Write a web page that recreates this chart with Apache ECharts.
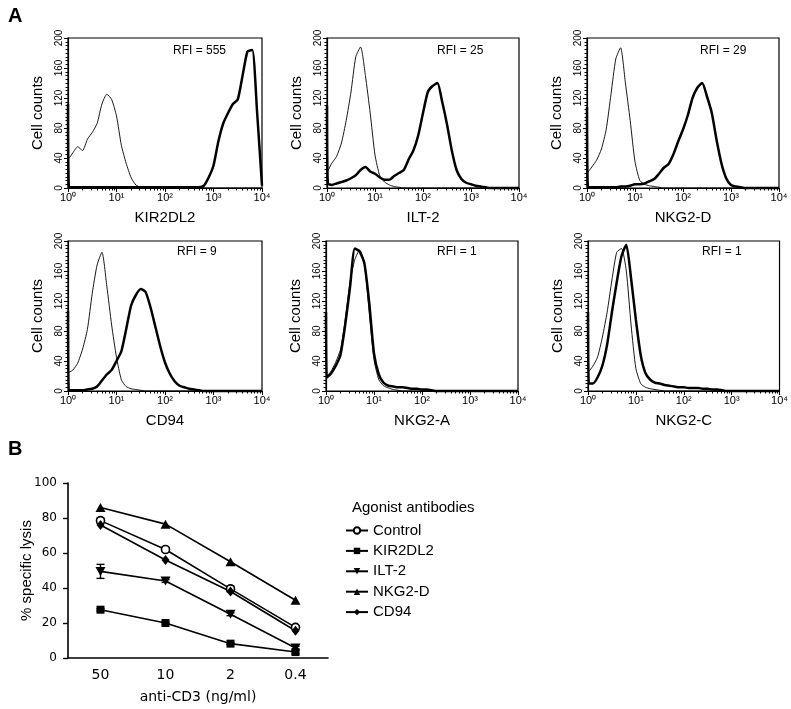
<!DOCTYPE html>
<html><head><meta charset="utf-8">
<script src="https://cdn.jsdelivr.net/npm/echarts@6/dist/echarts.min.js"></script>
<style>html,body{margin:0;padding:0;background:#fff}#c{width:791px;height:709px}</style>
</head><body><div id="c"></div>
<script>
// ---------- Panel A data: fluorescence histograms ----------
// bins: 10^0, 10^0.02, then 10^0.1 ... 10^4.0 in steps of 0.1 decade
const bins = [1, 1.04,
  1.26, 1.58, 2, 2.51, 3.16, 3.98, 5.01, 6.31, 7.94, 10,
  12.6, 15.8, 20, 25.1, 31.6, 39.8, 50.1, 63.1, 79.4, 100,
  126, 158, 200, 251, 316, 398, 501, 631, 794, 1000,
  1259, 1585, 1995, 2512, 3162, 3981, 5012, 6310, 7943, 10000];
const markers = ['KIR2DL2', 'ILT-2', 'NKG2-D', 'CD94', 'NKG2-A', 'NKG2-C'];
const rfiLabels = ['RFI = 555', 'RFI = 25', 'RFI = 29', 'RFI = 9', 'RFI = 1', 'RFI = 1'];
const histYTicks = [0, 40, 80, 120, 160, 200];
const decadeLabels = ['10\u2070', '10\u00b9', '10\u00b2', '10\u00b3', '10\u2074'];

const controlKIR2DL2 = [40,40, 47,55,50,65,74,86,112,125,118,96, 57,33,14,4,1,0,1,0,0,1, 0,0,0,0,0,0,0,0,0,0, 0,0,0,0,0,0,0,0,0,0];
const stainKIR2DL2   = [112,2, 1,1,1,1,1,1,1,1,1,1, 1,1,1,1,1,1,1,1,1,1, 1,1,1,1,1,1,1,3,14,30, 62,86,100,112,118,150,182,184,100,3];
const controlILT2    = [22,23, 33,42,60,90,128,175,188,150,100,44, 16,8,4,2,1,0,0,0,0,0, 0,0,0,0,0,0,0,0,0,0, 0,0,0,0,0,0,0,0,0,0];
const stainILT2      = [110,6, 4,6,8,10,13,17,24,28,22,19, 14,11,11,16,20,24,38,50,70,100, 128,136,140,115,85,50,24,12,7,5, 3,2,1,0,0,0,0,0,0,0];
const controlNKG2D   = [20,21, 28,37,52,78,125,172,187,140,90,35, 10,5,3,2,1,0,0,0,0,0, 0,0,0,0,0,0,0,0,0,0, 0,0,0,0,0,0,0,0,0,0];
const stainNKG2D     = [108,2, 1,1,1,1,1,1,2,2,3,5, 5,6,9,12,19,27,32,45,62,78, 97,120,134,140,122,100,64,33,13,4, 2,1,0,0,0,0,0,0,0,0];
const controlCD94    = [25,25, 28,37,56,82,130,168,185,140,88,45, 15,6,3,2,1,0,0,0,0,0, 0,0,0,0,0,0,0,0,0,0, 0,0,0,0,0,0,0,0,0,0];
const stainCD94      = [107,1, 1,1,1,2,3,6,14,22,28,40, 53,82,114,128,136,132,112,86,60,38, 23,13,7,5,3,2,1,0,0,0, 0,0,0,0,0,0,0,0,0,0];
const controlNKG2A   = [19,20, 26,38,55,95,145,175,188,170,105,42, 15,7,4,2,1,0,0,0,0,0, 0,0,0,0,0,0,0,0,0,0, 0,0,0,0,0,0,0,0,0,0];
const stainNKG2A     = [105,18, 23,33,48,88,138,190,186,170,118,50, 22,11,7,6,5,5,4,3,3,2, 2,1,0,0,0,0,0,0,0,0, 0,0,0,0,0,0,0,0,0,0];
const controlNKG2C   = [25,26, 33,45,72,105,148,185,190,160,88,30, 10,5,3,2,1,0,0,0,0,0, 0,0,0,0,0,0,0,0,0,0, 0,0,0,0,0,0,0,0,0,0];
const stainNKG2C     = [105,10, 10,18,34,62,105,145,180,195,150,95, 48,24,15,11,10,8,7,6,5,5, 4,4,4,3,3,2,2,1,0,0, 0,0,0,0,0,0,0,0,0,0];

const controlCounts = [controlKIR2DL2, controlILT2, controlNKG2D, controlCD94, controlNKG2A, controlNKG2C];
const stainCounts = [stainKIR2DL2, stainILT2, stainNKG2D, stainCD94, stainNKG2A, stainNKG2C];

// ---------- Panel B data: specific lysis ----------
const doses = ['50', '10', '2', '0.4'];
const lysisTicks = [0, 20, 40, 60, 80, 100];
const lysisNames = ['Control', 'KIR2DL2', 'ILT-2', 'NKG2-D', 'CD94'];
const lysisControl = [78.5, 62, 39.5, 17.5];
const lysisKIR2DL2 = [27.6, 20, 8.2, 3.4];
const lysisILT2    = [49.5, 44, 25, 5.7];
const lysisNKG2D   = [86, 76.5, 55, 33];
const lysisCD94    = [76, 56, 38, 15.6];
const errControl = [1.5, 1.2, 1.6, 0.8];
const errILT2    = [4, 0.8, 0.8, 1];
const errKIR2DL2 = [0.6, 0.6, 0.6, 1];

// ---------- layout ----------
const gridPos = [[68,38,194],[327,38,192],[587,38,192],[68,241,194],[326,241,192],[588,241,192]];
const rfiPos = [[173,45],[437,45],[700,45],[177,246],[437,246],[702,246]];
const FONT = 'Liberation Sans, Arial, Helvetica, sans-serif';
const VFONT = 'DejaVu Sans, Verdana, sans-serif';

const grids = [], xAxes = [], yAxes = [], series = [], graphics = [];
gridPos.forEach((g, i) => {
  grids.push({left: g[0], top: g[1], width: g[2], height: 150, show: true,
    borderColor: '#000', borderWidth: 1.2, backgroundColor: 'transparent', containLabel: false});
  xAxes.push({type: 'log', gridIndex: i, logBase: 10, min: 1, max: 10000, splitNumber: 4,
    axisLine: {show: true, lineStyle: {color: '#000', width: 1.2}},
    axisTick: {show: true, length: 4, lineStyle: {color: '#000'}},
    minorTick: {show: true, splitNumber: 9, length: 2.5, lineStyle: {color: '#000'}},
    splitLine: {show: false},
    axisLabel: {fontFamily: FONT, fontSize: 11, color: '#000', margin: 4,
      showMinLabel: true, showMaxLabel: true,
      formatter: v => decadeLabels[Math.round(Math.log10(v))] || ''},
    name: markers[i], nameLocation: 'middle', nameGap: 22,
    nameTextStyle: {fontFamily: FONT, fontSize: 15, color: '#000'}});
  yAxes.push({type: 'value', gridIndex: i, min: histYTicks[0], max: histYTicks[histYTicks.length-1], interval: 40,
    axisLine: {show: true, lineStyle: {color: '#000', width: 1.2}},
    axisTick: {show: true, length: 4, lineStyle: {color: '#000'}},
    minorTick: {show: true, splitNumber: 8, length: 2.5, lineStyle: {color: '#000'}},
    splitLine: {show: false},
    axisLabel: {fontFamily: FONT, fontSize: 10, color: '#000', rotate: 90, margin: 4},
    name: 'Cell counts', nameLocation: 'middle', nameGap: 23,
    nameTextStyle: {fontFamily: FONT, fontSize: 15, color: '#000'}});
  series.push({type: 'line', xAxisIndex: i, yAxisIndex: i, showSymbol: false, smooth: 0.2, clip: false,
    lineStyle: {color: '#000', width: 0.9}, silent: true, z: 3,
    data: bins.map((b, k) => [b, controlCounts[i][k]])});
  series.push({type: 'line', xAxisIndex: i, yAxisIndex: i, showSymbol: false, smooth: 0.2, clip: false,
    lineStyle: {color: '#000', width: 2.5}, silent: true, z: 4,
    data: bins.map((b, k) => [b, stainCounts[i][k]])});
  graphics.push({type: 'text', left: rfiPos[i][0], top: rfiPos[i][1],
    style: {text: rfiLabels[i], font: '12px ' + FONT, fill: '#000'}});
});

// Panel B grid
const gB = gridPos.length;
grids.push({left: 68, top: 483, width: 260, height: 175, show: false});
xAxes.push({type: 'category', gridIndex: gB, data: doses, boundaryGap: true,
  axisLine: {lineStyle: {color: '#000', width: 1.6}},
  axisTick: {alignWithLabel: true, length: 5, lineStyle: {color: '#000', width: 1.4}},
  axisLabel: {fontFamily: VFONT, fontSize: 14, color: '#000', margin: 10},
  name: 'anti-CD3 (ng/ml)', nameLocation: 'middle', nameGap: 32,
  nameTextStyle: {fontFamily: VFONT, fontSize: 14, color: '#000'}});
yAxes.push({type: 'value', gridIndex: gB, min: lysisTicks[0], max: lysisTicks[lysisTicks.length-1], interval: 20,
  axisLine: {show: true, lineStyle: {color: '#000', width: 1.6}},
  axisTick: {show: true, length: 5, lineStyle: {color: '#000', width: 1.4}},
  splitLine: {show: false},
  axisLabel: {fontFamily: VFONT, fontSize: 12, color: '#000', margin: 11},
  name: '% specific lysis', nameLocation: 'middle', nameGap: 34, nameMoveOverlap: false,
  nameTextStyle: {fontFamily: FONT, fontSize: 15, color: '#000'}});

const triDown = 'path://M0,0 L10,0 L5,9 Z';
const lysisSeries = [
  {name: 'Control', data: lysisControl, symbol: 'circle', symbolSize: 8, itemStyle: {color: '#fff', borderColor: '#000', borderWidth: 1.6}},
  {name: 'KIR2DL2', data: lysisKIR2DL2, symbol: 'rect', symbolSize: 8, itemStyle: {color: '#000'}},
  {name: 'ILT-2', data: lysisILT2, symbol: triDown, symbolSize: [10, 9], itemStyle: {color: '#000'}},
  {name: 'NKG2-D', data: lysisNKG2D, symbol: 'triangle', symbolSize: [10, 9], itemStyle: {color: '#000'}},
  {name: 'CD94', data: lysisCD94, symbol: 'diamond', symbolSize: [8, 10], itemStyle: {color: '#000'}}
];
lysisSeries.forEach(s => {
  series.push(Object.assign({type: 'line', xAxisIndex: gB, yAxisIndex: gB, showSymbol: true,
    lineStyle: {color: '#000', width: 1.6}, z: 5}, s));
});

// error bars
const errSets = [[lysisControl, errControl], [lysisILT2, errILT2], [lysisKIR2DL2, errKIR2DL2]];
const errData = [];
errSets.forEach(([vals, errs]) => vals.forEach((v, k) => { if (errs[k] > 0) errData.push([k, v - errs[k], v + errs[k]]); }));
series.push({type: 'custom', xAxisIndex: gB, yAxisIndex: gB, z: 4, silent: true,
  data: errData,
  renderItem: (params, api) => {
    const lo = api.coord([api.value(0), api.value(1)]);
    const hi = api.coord([api.value(0), api.value(2)]);
    const w = 4;
    const st = {stroke: '#000', lineWidth: 1.4};
    return {type: 'group', children: [
      {type: 'line', shape: {x1: lo[0], y1: lo[1], x2: hi[0], y2: hi[1]}, style: st},
      {type: 'line', shape: {x1: lo[0]-w, y1: lo[1], x2: lo[0]+w, y2: lo[1]}, style: st},
      {type: 'line', shape: {x1: hi[0]-w, y1: hi[1], x2: hi[0]+w, y2: hi[1]}, style: st}
    ]};
  }});

graphics.push({type: 'text', left: 8, top: 6, style: {text: 'A', font: 'bold 20px ' + FONT, fill: '#000'}});
graphics.push({type: 'text', left: 8, top: 439, style: {text: 'B', font: 'bold 20px ' + FONT, fill: '#000'}});
graphics.push({type: 'text', left: 352, top: 500, style: {text: 'Agonist antibodies', font: '15px ' + FONT, fill: '#000'}});

const chart = echarts.init(document.getElementById('c'), null, {renderer: 'canvas'});
chart.setOption({
  animation: false,
  backgroundColor: '#fff',
  grid: grids, xAxis: xAxes, yAxis: yAxes, series: series,
  legend: {data: lysisNames, orient: 'vertical', left: 345, top: 523, padding: 0, itemWidth: 22, itemHeight: 8,
    itemGap: 5.4, textStyle: {fontFamily: FONT, fontSize: 15, color: '#000', lineHeight: 15}, selectedMode: false},
  graphic: graphics
});
</script></body></html>
